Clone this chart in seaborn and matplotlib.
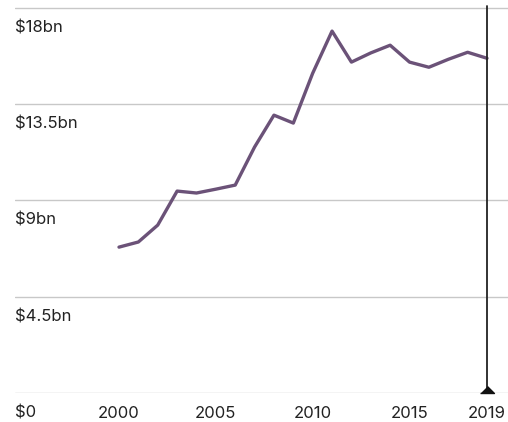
import matplotlib
matplotlib.use("Agg")
import matplotlib.pyplot as plt
import seaborn as sns
import pandas as pd

years = list(range(2000, 2020))
values = [6.82, 7.06, 7.85, 9.44, 9.35, 9.53, 9.72, 11.5, 12.99, 12.62,
          14.95, 16.92, 15.47, 15.9, 16.26, 15.47, 15.23, 15.6, 15.93, 15.65]
y_ticks = [0, 4.5, 9, 13.5, 18]
y_labels = ["$0", "$4.5bn", "$9bn", "$13.5bn", "$18bn"]
x_ticks = [2000, 2005, 2010, 2015, 2019]
x_labels = ["2000", "2005", "2010", "2015", "2019"]

df = pd.DataFrame({"year": years, "value": values})

sns.set_theme(style="white")
plt.rcParams['font.family'] = ['Inter', 'DejaVu Sans']

fig = plt.figure(figsize=(5.08, 4.22), dpi=100)
W, H = 508, 422
left_px, right_px, top_px, bottom_px = 15, 508, 0, 393
ax = fig.add_axes([left_px / W, (H - bottom_px) / H, (right_px - left_px) / W, (bottom_px - top_px) / H])

px_per_year = (487 - 119) / 19
ax.set_xlim(2000 - (119 - left_px) / px_per_year, 2019 + (right_px - 487) / px_per_year)
px_per_bn = (393 - 8) / 18
ax.set_ylim(0, (bottom_px - top_px) / px_per_bn)

for t in y_ticks:
    ax.axhline(t, color="#c8c8c8", lw=1, zorder=1)

sns.lineplot(data=df, x="year", y="value", ax=ax, color="#6b5278", lw=2.4, zorder=3)

ax.axvline(2019, color="#222222", lw=1.3, ymax=1 - 6 / (bottom_px - top_px), zorder=4)
ax.plot([2019], [0], marker=[(-1, 0), (1, 0), (0, 1)], color="#111111",
        markersize=10, clip_on=False, zorder=5)

for t, lab in zip(y_ticks, y_labels):
    ax.annotate(lab, xy=(0, t), xycoords=("axes fraction", "data"),
                xytext=(0, -9), textcoords="offset points",
                ha="left", va="top", fontsize=12, color="#222222")

for t, lab in zip(x_ticks, x_labels):
    ax.annotate(lab, xy=(t, 0), xycoords="data",
                xytext=(0, -9), textcoords="offset points",
                ha="center", va="top", fontsize=12, color="#222222", annotation_clip=False)

ax.set_xticks([])
ax.set_yticks([])
ax.set_xlabel("")
ax.set_ylabel("")
for s in ax.spines.values():
    s.set_visible(False)
ax.patch.set_alpha(0)

fig.savefig("out.png", dpi=100)
